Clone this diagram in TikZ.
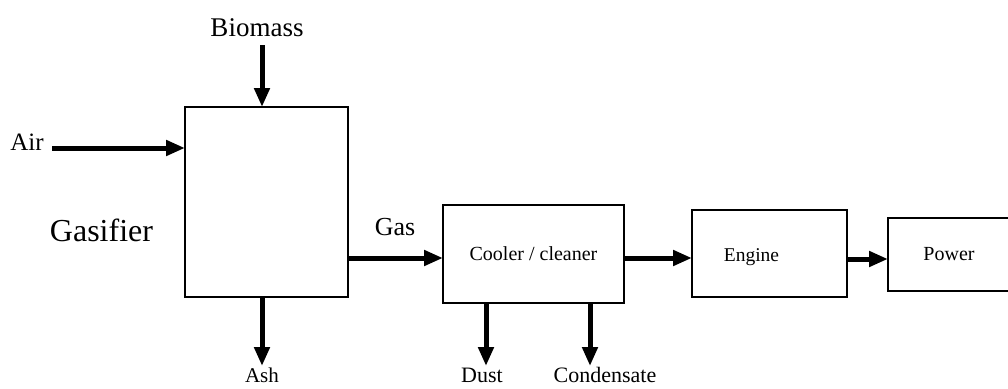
\documentclass[tikz,border=0pt]{standalone}
\usepackage{fontspec}
\setmainfont{Liberation Serif}
\usetikzlibrary{arrows.meta}
\begin{document}
\begin{tikzpicture}[x=1pt,y=-1pt,
  box/.style={draw, line width=2.6pt, inner sep=0pt, outer sep=0pt},
  flow/.style={line width=5pt, -{Triangle[length=19pt,width=15pt]}},
  lbl/.style={inner sep=0pt, anchor=base}]
\clip (0,0) rectangle (1008,388);
% boxes
\node[box, minimum width=163pt, minimum height=190pt] (gasifier) at (266.5,202) {};
\node[box, minimum width=181pt, minimum height=98pt, font=\fontsize{20}{22}\selectfont] (cooler) at (533.5,254) {Cooler / cleaner};
\node[box, minimum width=155pt, minimum height=87pt,
      label={[font=\fontsize{19.5}{22}\selectfont, xshift=-18pt, yshift=-4pt]center:Engine}] (engine) at (769.5,253.5) {};
\node[box, minimum width=122pt, minimum height=73pt, font=\fontsize{20}{22}\selectfont] (power) at (949,254.5) {Power};
% labels
\node[lbl, font=\fontsize{27}{30}\selectfont] (biomass) at (257,36) {Biomass};
\node[lbl, font=\fontsize{25}{28}\selectfont] (air) at (27,150) {Air};
\node[lbl, font=\fontsize{32}{36}\selectfont] (gasifiertext) at (101.5,241) {Gasifier};
\node[lbl, font=\fontsize{26}{29}\selectfont] (gas) at (395,235) {Gas};
\node[lbl, font=\fontsize{21}{24}\selectfont] (ash) at (262,382) {Ash};
\node[lbl, font=\fontsize{22}{25}\selectfont] (dust) at (482,382) {Dust};
\node[lbl, font=\fontsize{22}{25}\selectfont] (condensate) at (605,382) {Condensate};
% connectors
\coordinate (bioin) at (262,45);
\draw[flow] (bioin) -- (bioin |- gasifier.north);
\coordinate (airin) at (52,148);
\draw[flow] (airin) -- (airin -| gasifier.west);
\coordinate (ashout) at (262,366);
\draw[flow] (ashout |- gasifier.south) -- (ashout);
\coordinate (gasline) at (0,258);
\draw[flow] (gasline -| gasifier.east) -- (gasline -| cooler.west);
\coordinate (dustout) at (486,366);
\draw[flow] (dustout |- cooler.south) -- (dustout);
\coordinate (condout) at (590,366);
\draw[flow] (condout |- cooler.south) -- (condout);
\draw[flow] (gasline -| cooler.east) -- (gasline -| engine.west);
\coordinate (powline) at (0,259);
\draw[flow] (powline -| engine.east) -- (powline -| power.west);
\end{tikzpicture}
\end{document}
